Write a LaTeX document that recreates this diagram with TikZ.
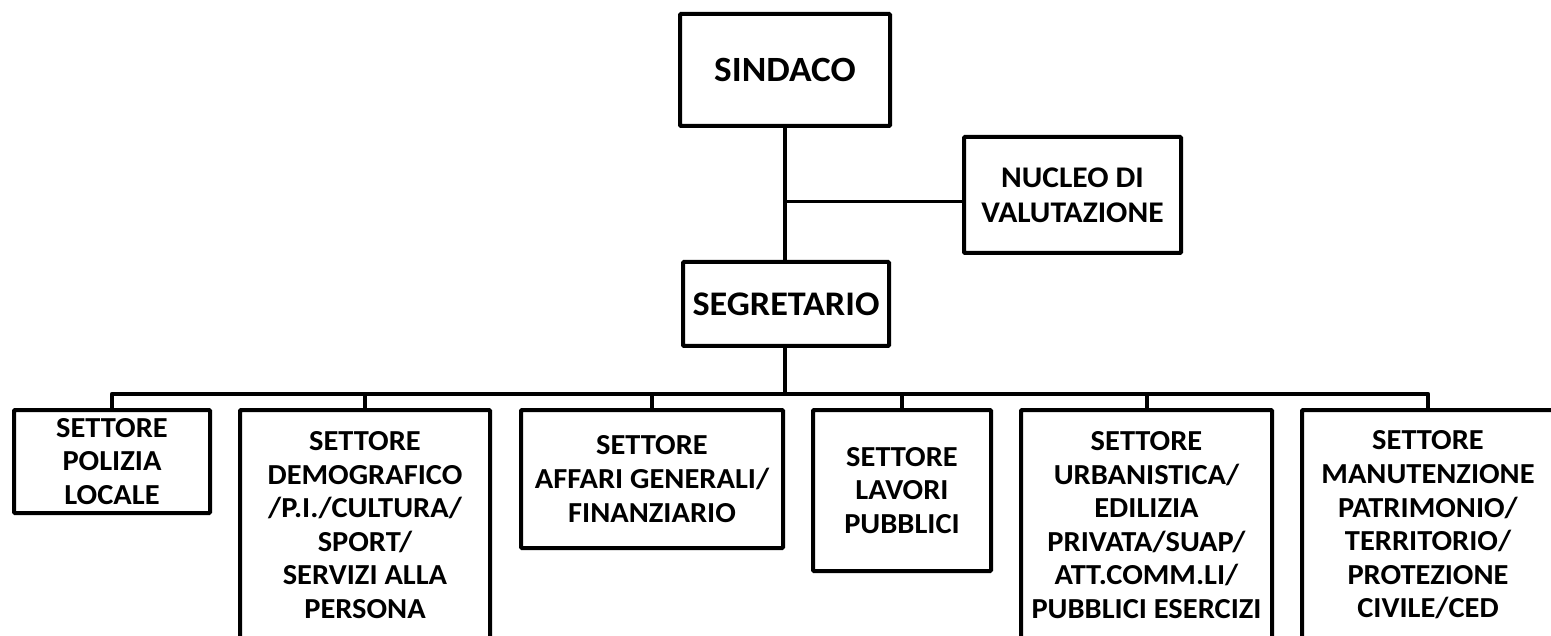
\documentclass[tikz,border=0pt]{standalone}
\usepackage{fontspec}
\setmainfont{Carlito}[FakeStretch=1.05]
\begin{document}
\begin{tikzpicture}[x=1pt,y=-1pt,
  box/.style={draw=black,line width=4pt,rounded corners=1pt,inner sep=0pt,align=center,
    font=\fontsize{29}{33.6}\selectfont\bfseries},
  conn/.style={draw=black,line width=4.5pt},
  thin/.style={draw=black,line width=3pt}]
\useasboundingbox (0,0) rectangle (1551,636);
\clip (0,0) rectangle (1551,636);
% top level
\node[box,minimum width=210pt,minimum height=112pt,font=\fontsize{35.5}{40}\selectfont\bfseries] (sind) at (785,70) {SINDACO};
\node[box,minimum width=217pt,minimum height=116pt,font=\fontsize{30}{35}\selectfont\bfseries] (nuc) at (1072.5,195) {NUCLEO DI\\VALUTAZIONE};
\node[box,minimum width=206pt,minimum height=84pt,font=\fontsize{34.5}{40}\selectfont\bfseries] (seg) at (786,304) {SEGRETARIO};
% sectors
\node[box,minimum width=196pt,minimum height=103pt] (pol) at (112,461.5) {SETTORE\\POLIZIA\\LOCALE};
\node[box,minimum width=250pt,minimum height=230pt] (dem) at (365,525) {SETTORE\\DEMOGRAFICO\\/P.I./CULTURA/\\SPORT/\\SERVIZI ALLA\\PERSONA};
\node[box,minimum width=262pt,minimum height=138pt] (aff) at (652,479) {SETTORE\\AFFARI GENERALI/\\FINANZIARIO};
\node[box,minimum width=178pt,minimum height=161pt] (lav) at (902,490.5) {SETTORE\\LAVORI\\PUBBLICI};
\node[box,minimum width=251pt,minimum height=230pt] (urb) at (1146.5,525) {SETTORE\\URBANISTICA/\\EDILIZIA\\PRIVATA/SUAP/\\ATT.COMM.LI/\\PUBBLICI ESERCIZI};
\node[box,minimum width=252pt,minimum height=230pt] (man) at (1428,525) {SETTORE\\MANUTENZIONE\\PATRIMONIO/\\TERRITORIO/\\PROTEZIONE\\CIVILE/CED};
% connectors
\coordinate (br) at (785,202);
\coordinate (bus) at (785,394);
\draw[conn] (sind.south) -- (sind.south |- seg.north);
\draw[thin] (br) -- (br -| nuc.west);
\draw[conn] (seg.south -| br) -- (bus);
\draw[conn,line join=round] (pol.north) -- (pol.north |- bus) -- (man.north |- bus) -- (man.north);
\foreach \n in {dem,aff,lav,urb}{
  \draw[line width=4pt] (\n.north) -- (\n.north |- bus);
}
\end{tikzpicture}
\end{document}
